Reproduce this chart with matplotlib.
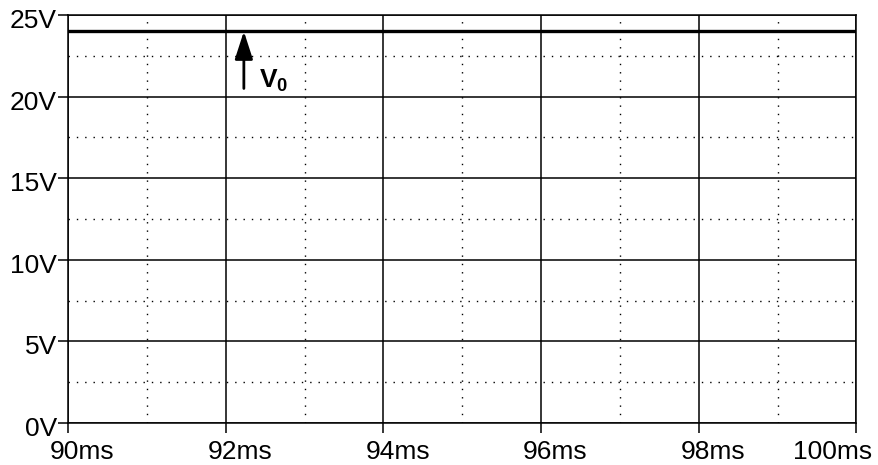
import matplotlib
matplotlib.use("Agg")
import matplotlib.pyplot as plt
import matplotlib.transforms as mtransforms

plt.rcParams['font.family'] = ['Liberation Sans', 'DejaVu Sans']
plt.rcParams['mathtext.fontset'] = 'custom'
plt.rcParams['mathtext.rm'] = 'Liberation Sans'
plt.rcParams['mathtext.bf'] = 'Liberation Sans:bold'

# signal data
t_ms = [90, 100]
v_out = [24, 24]

x_major = [90, 92, 94, 96, 98, 100]
x_labels = ["90ms", "92ms", "94ms", "96ms", "98ms", "100ms"]
y_major = [0, 5, 10, 15, 20, 25]
y_labels = ["0V", "5V", "10V", "15V", "20V", "25V"]
x_minor = [91, 93, 95, 97, 99]
y_minor = [2.5, 7.5, 12.5, 17.5, 22.5]

arrow_t = 92.23
arrow_from = 20.5
arrow_to = 24.0

fig = plt.figure(figsize=(8.79, 4.65), dpi=100)
ax = fig.add_axes([0.0774, 0.0903, 0.897, 0.8774])

ax.set_xlim(90, 100)
ax.set_ylim(0, 25)

ax.set_xticks(x_major)
ax.set_xticklabels(x_labels)
ax.set_yticks(y_major)
ax.set_yticklabels(y_labels)
ax.set_xticks(x_minor, minor=True)
ax.set_yticks(y_minor, minor=True)

ax.tick_params(axis="both", which="major", direction="out", length=7.5, width=1.1,
               labelsize=19, colors="black")
ax.tick_params(axis="x", which="major", pad=5)
ax.tick_params(axis="y", which="major", pad=0.5)
ax.tick_params(axis="both", which="minor", length=0)

# LTspice-like label placement: x labels start a bit left of the tick
for i, lab in enumerate(ax.get_xticklabels()):
    if i == len(x_labels) - 1:
        lab.set_ha("right")
        dx = 16
    else:
        lab.set_ha("left")
        dx = -18
    lab.set_transform(lab.get_transform() +
                      mtransforms.ScaledTranslation(dx / 100, 0, fig.dpi_scale_trans))
for lab in ax.get_yticklabels():
    lab.set_transform(lab.get_transform() +
                      mtransforms.ScaledTranslation(0, -3.5 / 100, fig.dpi_scale_trans))

ax.grid(which="major", color="black", lw=1.1)
ax.grid(which="minor", color="black", lw=1, linestyle=(0, (1, 5)))
ax.set_axisbelow(True)

for s in ax.spines.values():
    s.set_linewidth(1.1)

ax.plot(t_ms, v_out, color="black", lw=2.4)

ax.annotate("", xy=(arrow_t, arrow_to), xytext=(arrow_t, arrow_from),
            arrowprops=dict(arrowstyle="-|>,head_width=0.55,head_length=1.7",
                            color="black", lw=2, shrinkA=0, shrinkB=0))
ax.text(arrow_t + 0.19, 20.53, r"$\mathbf{V_0}$", fontsize=19, va="baseline", ha="left")

fig.savefig("out.png", dpi=100)
